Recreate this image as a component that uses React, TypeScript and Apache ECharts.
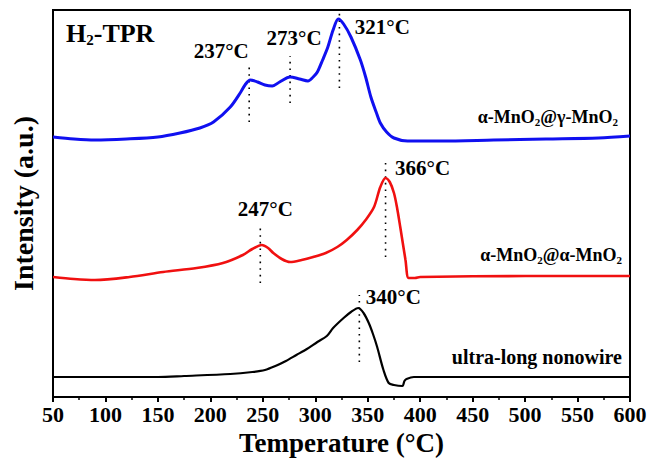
import React, { useEffect, useRef } from "react";
import * as echarts from "echarts";

// Temperature (°C) sample points and intensities (a.u.)
const blueT = [50, 70, 90, 120, 150, 171, 190, 203, 219, 229, 233, 238, 245, 252, 259, 266, 276, 285, 293, 298, 302, 307, 312, 317, 322, 327, 334, 343, 348, 353, 358, 362, 368, 375, 388, 420, 470, 520, 570, 600];
const blueV = [260, 258, 257, 258, 260, 264, 269, 275, 290, 305, 312, 317, 315, 312, 311, 315, 320, 318, 316, 320, 325, 337, 350, 367, 378, 373, 360, 337, 320, 300, 285, 274, 265, 259, 256, 256, 257, 258, 259, 261];

const redT = [50, 70, 90, 123, 155, 187, 212, 231, 240, 249, 255, 260, 268, 276, 287, 298, 310, 321, 330, 340, 348, 356, 362, 367, 371, 375, 378, 381, 386, 389, 395, 400, 500, 600];
const redV = [120, 118, 117, 120, 125, 129, 134, 142, 148, 152, 149, 144, 138, 135, 137, 140, 144, 150, 157, 167, 177, 190, 210, 219, 215, 204, 189, 170, 137, 119, 119, 120, 121, 121];

const blackT = [50, 100, 150, 175, 219, 240, 252, 262, 272, 282, 292, 302, 311, 317, 327, 334, 341, 346, 351, 355, 359, 365, 370, 375, 383, 385, 387, 394, 450, 600];
const blackV = [20, 20, 20, 21, 23, 25, 27, 31, 36, 42, 48, 55, 61, 69, 79, 85, 89, 84, 74, 63, 50, 27, 14, 12, 11, 16, 18, 20, 20, 20];

// Peak markers: temperature position, dotted line bottom/top (a.u.), label text
const bluePeakT = [237, 276, 323];
const bluePeakLow = [275, 294, 309];
const bluePeakHigh = [331, 341, 384];
const bluePeakText = ["237°C", "273°C", "321°C"];

const redPeakT = [247.6, 367];
const redPeakLow = [114, 140];
const redPeakHigh = [172, 234];
const redPeakText = ["247°C", "366°C"];

const blackPeakT = [342];
const blackPeakLow = [35];
const blackPeakHigh = [102];
const blackPeakText = ["340°C"];

const seriesNames = ["α-MnO{s|2}@γ-MnO{s|2}", "α-MnO{s|2}@α-MnO{s|2}", "ultra-long nonowire"];

const xTicks = { min: 50, max: 600, interval: 50 };

const SERIF = "'Liberation Serif', 'Times New Roman', serif";

function pairs(xs: number[], ys: number[]) {
  return xs.map((x, i) => [x, ys[i]]);
}

export default function App() {
  const ref = useRef<HTMLDivElement>(null);
  useEffect(() => {
    document.body.style.margin = "0";
    const chart = echarts.init(ref.current!, undefined, { renderer: "svg" });

    const dotted = (t: number[], lo: number[], hi: number[], id: string) =>
      t.map((x, i) => ({
        type: "line",
        id: id + i,
        data: [[x, lo[i]], [x, hi[i]]],
        symbol: "none",
        silent: true,
        lineStyle: { color: "#000", width: 1.6, type: [1.6, 5] },
        z: 1,
      }));

    const labelSeries = (t: number[], hi: number[], text: string[], offs: number[][], id: string) => ({
      type: "scatter",
      id,
      symbolSize: 0,
      silent: true,
      itemStyle: { opacity: 1 },
      data: t.map((x, i) => ({ value: [x, hi[i]], name: text[i], label: { offset: offs[i] } })),
      label: {
        show: true,
        position: "inside",
        formatter: "{b}",
        color: "#000",
        opacity: 1,
        fontFamily: SERIF,
        fontWeight: "bold",
        fontSize: 21,
      },
      z: 5,
    });

    chart.setOption({
      animation: false,
      grid: { left: 53, right: 22, top: 10, bottom: 69, show: true, borderColor: "#000", borderWidth: 2 },
      xAxis: {
        type: "value",
        min: xTicks.min,
        max: xTicks.max,
        interval: xTicks.interval,
        axisLine: { show: true, lineStyle: { color: "#000", width: 2 } },
        axisTick: { show: true, inside: false, length: 5, lineStyle: { color: "#000", width: 2 } },
        minorTick: { show: true, splitNumber: 2, length: 3, lineStyle: { color: "#000", width: 1.5 } },
        splitLine: { show: false },
        axisLabel: { color: "#000", fontFamily: SERIF, fontWeight: "bold", fontSize: 22, margin: 6 },
        name: "Temperature (°C)",
        nameLocation: "middle",
        nameGap: 30,
        nameTextStyle: { color: "#000", fontFamily: SERIF, fontWeight: "bold", fontSize: 27 },
      },
      yAxis: {
        type: "value",
        min: 0,
        max: 387,
        axisLine: { show: true, lineStyle: { color: "#000", width: 2 } },
        axisTick: { show: false },
        axisLabel: { show: false },
        splitLine: { show: false },
        name: "Intensity (a.u.)",
        nameLocation: "middle",
        nameGap: 16,
        nameTextStyle: { color: "#000", fontFamily: SERIF, fontWeight: "bold", fontSize: 28 },
      },
      graphic: [
        {
          type: "text",
          left: 66,
          top: 20,
          style: {
            text: "H{s|2}-TPR",
            fill: "#000",
            font: "bold 26px " + SERIF,
            rich: { s: { fontSize: 15, fontWeight: "bold", fontFamily: SERIF, padding: [14, 0, 0, 0] } },
          },
        },
        {
          type: "text",
          right: 34,
          top: 108,
          style: {
            text: seriesNames[0],
            fill: "#000",
            font: "bold 18px " + SERIF,
            rich: { s: { fontSize: 11, fontWeight: "bold", fontFamily: SERIF, padding: [9, 0, 0, 0] } },
          },
        },
        {
          type: "text",
          right: 30,
          top: 246,
          style: {
            text: seriesNames[1],
            fill: "#000",
            font: "bold 18px " + SERIF,
            rich: { s: { fontSize: 11, fontWeight: "bold", fontFamily: SERIF, padding: [9, 0, 0, 0] } },
          },
        },
        {
          type: "text",
          right: 30,
          top: 347,
          style: { text: seriesNames[2], fill: "#000", font: "bold 20px " + SERIF },
        },
      ],
      series: [
        {
          type: "line",
          data: pairs(blueT, blueV),
          symbol: "none",
          smooth: 0.3,
          lineStyle: { color: "#1010f0", width: 3 },
          z: 3,
        },
        {
          type: "line",
          data: pairs(redT, redV),
          symbol: "none",
          smooth: 0.3,
          lineStyle: { color: "#f01010", width: 2.6 },
          z: 3,
        },
        {
          type: "line",
          data: pairs(blackT, blackV),
          symbol: "none",
          smooth: 0.3,
          lineStyle: { color: "#000", width: 2.2 },
          z: 3,
        },
        ...dotted(bluePeakT, bluePeakLow, bluePeakHigh, "bd"),
        ...dotted(redPeakT, redPeakLow, redPeakHigh, "rd"),
        ...dotted(blackPeakT, blackPeakLow, blackPeakHigh, "kd"),
        labelSeries(bluePeakT, bluePeakHigh, bluePeakText, [[-28, -15], [4, -18], [43, 14]], "bl"),
        labelSeries(redPeakT, redPeakHigh, redPeakText, [[5, -16], [37, 5]], "rl"),
        labelSeries(blackPeakT, blackPeakHigh, blackPeakText, [[34, 2]], "kl"),
      ],
    });
    return () => chart.dispose();
  }, []);
  return <div ref={ref} style={{ width: 652, height: 466 }} />;
}
